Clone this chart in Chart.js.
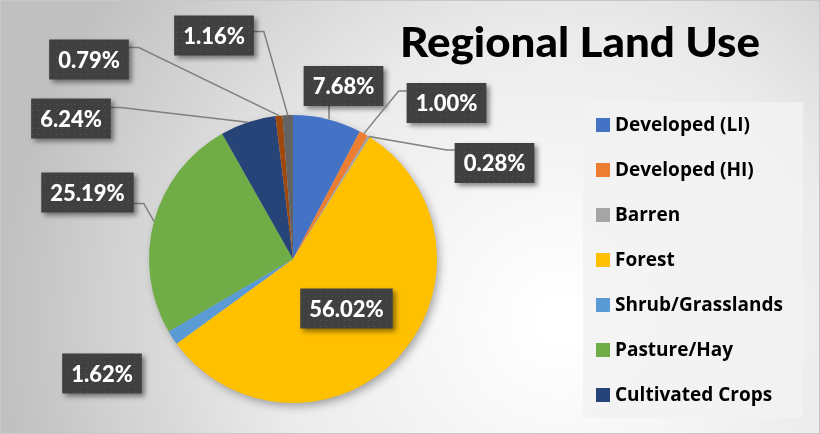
<!DOCTYPE html>
<html>
<head>
<meta charset="utf-8">
<script src="https://cdn.jsdelivr.net/npm/chart.js@4.4.1/dist/chart.umd.min.js"></script>
<style>
  body { margin: 0; background: #fff; }
  #wrap { position: relative; width: 820px; height: 434px; }
</style>
</head>
<body>
<div id="wrap"><canvas id="chart"></canvas></div>
<script>
// data
const categories = ['Developed (LI)', 'Developed (HI)', 'Barren', 'Forest', 'Shrub/Grasslands', 'Pasture/Hay', 'Cultivated Crops', 'Wetlands', 'Open Water'];
const shares = [7.68, 1.00, 0.28, 56.02, 1.62, 25.19, 6.24, 0.79, 1.16];
const colors = ['#4472C4', '#ED7D31', '#A5A5A5', '#FFC000', '#5B9BD5', '#70AD47', '#264478', '#9E480E', '#636363'];
const legendCount = 7; // legend in the original is cut after 7 items

// where each value box sits, and which side its leader line leaves from
const labelBoxes = [
    { x: 343.5, y: 86, side: 'b', off: -14.5 },
    { x: 446.5, y: 103, side: 'l', off: -12 },
    { x: 494.5, y: 163, side: 'l', off: -13 },
    { x: 346.5, y: 308.5, side: null },
    { x: 102, y: 373.5, side: null },
    { x: 87.5, y: 192.5, side: 'r', off: 11 },
    { x: 71, y: 118.5, side: 'r', off: -11 },
    { x: 89, y: 59.5, side: 'r', off: -12 },
    { x: 214, y: 35.5, side: 'r', off: -4 }
];

const font = 'Lato, "Open Sans", sans-serif';

// dotted texture for the dark label boxes
const dots = document.createElement('canvas');
dots.width = 6; dots.height = 6;
const dctx = dots.getContext('2d');
dctx.fillStyle = '#404040';
dctx.fillRect(0, 0, 6, 6);
dctx.fillStyle = '#565656';
dctx.fillRect(2, 2, 1, 1);

const backdrop = {
    id: 'backdrop',
    beforeDraw(chart) {
        const ctx = chart.ctx;
        const g = ctx.createRadialGradient(560, 320, 20, 560, 320, 560);
        g.addColorStop(0, '#ffffff');
        g.addColorStop(0.5, '#ebebeb');
        g.addColorStop(1, '#c0c0c0');
        ctx.save();
        ctx.fillStyle = g;
        ctx.fillRect(0, 0, chart.width, chart.height);
        ctx.strokeStyle = '#c8c8c8';
        ctx.lineWidth = 1;
        ctx.strokeRect(0.5, 0.5, chart.width - 1, chart.height - 1);
        ctx.restore();
    },
    beforeDatasetsDraw(chart) {
        // soft shadow under the pie
        const arc = chart.getDatasetMeta(0).data[0];
        if (!arc) return;
        const p = arc.getProps(['x', 'y', 'outerRadius'], true);
        const ctx = chart.ctx;
        ctx.save();
        ctx.shadowColor = 'rgba(0,0,0,0.35)';
        ctx.shadowBlur = 10;
        ctx.shadowOffsetX = 3;
        ctx.shadowOffsetY = 4;
        ctx.fillStyle = '#bbbbbb';
        ctx.beginPath();
        ctx.arc(p.x, p.y, p.outerRadius - 1, 0, Math.PI * 2);
        ctx.fill();
        ctx.restore();
    }
};

const valueLabels = {
    id: 'valueLabels',
    afterDatasetsDraw(chart) {
        const ctx = chart.ctx;
        const meta = chart.getDatasetMeta(0);
        ctx.save();
        ctx.font = '900 22px ' + font;
        meta.data.forEach((arc, i) => {
            const p = arc.getProps(['x', 'y', 'startAngle', 'endAngle', 'outerRadius'], true);
            const box = labelBoxes[i];
            const text = shares[i].toFixed(2) + '%';
            const w = ctx.measureText(text).width + 18;
            const h = 40;
            const left = box.x - w / 2, top = box.y - h / 2;

            // leader line
            if (box.side) {
                const mid = (p.startAngle + p.endAngle) / 2;
                const ax = p.x + Math.cos(mid) * p.outerRadius;
                const ay = p.y + Math.sin(mid) * p.outerRadius;
                ctx.strokeStyle = '#7f7f7f';
                ctx.lineWidth = 1.5;
                ctx.beginPath();
                if (box.side === 'b') {
                    ctx.moveTo(box.x + box.off, top + h);
                    ctx.lineTo(box.x + box.off, ay);
                } else if (box.side === 'r') {
                    const ey = box.y + box.off;
                    ctx.moveTo(left + w, ey);
                    ctx.lineTo(left + w + 10, ey);
                    ctx.lineTo(ax, ay);
                } else {
                    const ey = box.y + box.off;
                    ctx.moveTo(left, ey);
                    ctx.lineTo(left - 8, ey);
                    ctx.lineTo(ax, ay);
                }
                ctx.stroke();
            }

            // box
            ctx.save();
            ctx.shadowColor = 'rgba(0,0,0,0.45)';
            ctx.shadowBlur = 5;
            ctx.shadowOffsetX = 3;
            ctx.shadowOffsetY = 3;
            ctx.fillStyle = ctx.createPattern(dots, 'repeat');
            ctx.fillRect(left, top, w, h);
            ctx.restore();

            ctx.fillStyle = '#ffffff';
            ctx.textAlign = 'center';
            ctx.textBaseline = 'middle';
            ctx.fillText(text, box.x, box.y + 1);
        });
        ctx.restore();
    }
};

const sideParts = {
    id: 'sideParts',
    afterDraw(chart) {
        const ctx = chart.ctx;
        ctx.save();
        // title
        ctx.fillStyle = '#000000';
        ctx.font = '900 41px ' + font;
        ctx.textBaseline = 'alphabetic';
        ctx.textAlign = 'left';
        const title = 'Regional Land Use';
        const tw = ctx.measureText(title).width;
        ctx.save();
        ctx.translate(400, 57);
        ctx.scale(360 / tw, 1);
        ctx.fillText(title, 0, 0);
        ctx.restore();

        // legend
        ctx.fillStyle = 'rgba(242,242,242,0.85)';
        ctx.fillRect(583, 102, 220, 316);
        ctx.font = '700 19px "Open Sans", sans-serif';
        ctx.textBaseline = 'middle';
        for (let i = 0; i < legendCount; i++) {
            const y = 125 + i * 45;
            ctx.fillStyle = colors[i];
            ctx.fillRect(596, y - 7, 14, 14);
            ctx.fillStyle = '#000000';
            ctx.fillText(categories[i], 615, y + 1);
        }
        ctx.restore();
    }
};

new Chart(document.querySelector('#chart'), {
    type: 'pie',
    data: {
        labels: categories,
        datasets: [{
            data: shares,
            backgroundColor: colors,
            borderWidth: 0
        }]
    },
    options: {
        responsive: true,
        maintainAspectRatio: false,
        animation: false,
        layout: {
            padding: { left: 149, right: 383, top: 115, bottom: 31 }
        },
        plugins: {
            legend: { display: false },
            tooltip: { enabled: false }
        }
    },
    plugins: [backdrop, valueLabels, sideParts]
});
</script>
</body>
</html>
